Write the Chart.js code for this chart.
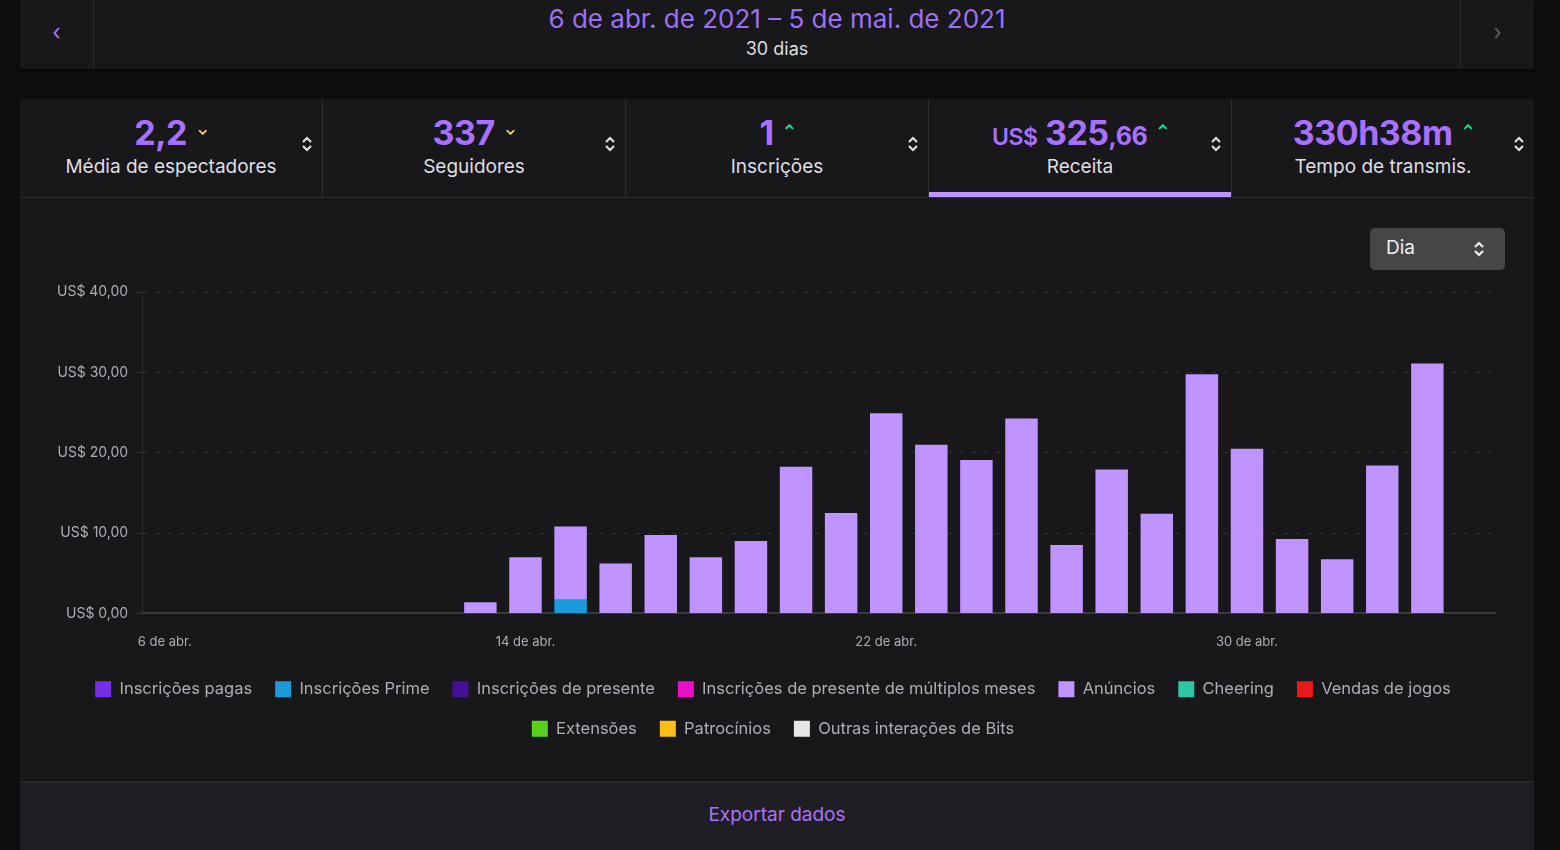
<!DOCTYPE html>
<html lang="pt-BR">
<head>
<meta charset="utf-8">
<script src="https://cdn.jsdelivr.net/npm/chart.js@4.4.1/dist/chart.umd.min.js"></script>
<style>
  html, body { margin: 0; padding: 0; }
  body {
    width: 1560px; height: 850px; overflow: hidden;
    background: #0e0e10; font-family: Inter, "Noto Sans", sans-serif;
    position: relative;
  }
  .panel { position: absolute; background: #18181b; }
  #top { left: 20px; top: 0; width: 1514px; height: 69px; box-shadow: 0 2px 4px rgba(0,0,0,.6); }
  #top .arrow { position: absolute; top: 0; width: 73px; height: 69px; line-height: 64px; text-align: center; font-size: 22px; }
  #top .left { left: 0; border-right: 1px solid #2a2a2e; color: #a970ff; }
  #top .right { right: 0; border-left: 1px solid #2a2a2e; color: #5c5c66; }
  #range { position: absolute; left: 0; right: 0; top: 3px; text-align: center; color: #9c70f5; font-size: 26px; }
  #days { position: absolute; left: 0; right: 0; top: 38px; text-align: center; color: #dedee3; font-size: 18px; }
  #stats { left: 20px; top: 99px; width: 1514px; height: 98px; display: flex; border-bottom: 1px solid #2c2c31; }
  .cell { position: relative; flex: 1; border-right: 1px solid #2c2c31; }
  .cell:last-child { border-right: none; }
  .cell .num { position: absolute; left: 0; right: 0; top: 13px; text-align: center; color: #a970ff; font-weight: 700; font-size: 34px; letter-spacing: -0.5px; }
  .cell .num small { font-size: 25px; font-weight: 700; }
  .cell .num .cur { font-size: 23px; font-weight: 600; }
  .cell .trend { font-size: 14px; vertical-align: 10px; margin-left: 10px; font-weight: 700; }
  .down { color: #ffd37a; }
  .up { color: #00f593; }
  .cell .lbl { position: absolute; left: 0; right: 0; top: 56px; text-align: center; color: #dedee3; font-size: 19px; }
  .cell svg { position: absolute; right: 9px; top: 36px; }
  .cell.active::after { content: ""; position: absolute; left: 0; right: 0; bottom: 0; height: 5px; background: #bf94ff; }
  #chartPanel { left: 20px; top: 198px; width: 1514px; height: 582px; }
  #dia { position: absolute; left: 1350px; top: 30px; width: 135px; height: 42px; background: #464649; border-radius: 5px; color: #efeff1; font-size: 19px; line-height: 40px; box-sizing: border-box; padding-left: 16px; }
  #dia svg { position: absolute; right: 20px; top: 12px; }
  #wrap { position: absolute; left: 0; top: 72px; width: 1514px; height: 483px; }
  #export { left: 20px; top: 781px; width: 1514px; height: 69px; background: #1f1f23; border-top: 1px solid #303036; text-align: center; color: #a970ff; font-size: 19px; line-height: 66px; }
</style>
</head>
<body>
<div id="top" class="panel">
  <div class="arrow left">&#8249;</div>
  <div id="range">6 de abr. de 2021 – 5 de mai. de 2021</div>
  <div id="days">30 dias</div>
  <div class="arrow right">&#8250;</div>
</div>

<div id="stats" class="panel">
  <div class="cell"><div class="num">2,2<span class="trend down">&#8964;</span></div><div class="lbl">Média de espectadores</div>
    <svg width="12" height="18" viewBox="0 0 12 18"><path d="M2 7 L6 3 L10 7" stroke="#dedee3" stroke-width="2.2" fill="none"/><path d="M2 11 L6 15 L10 11" stroke="#dedee3" stroke-width="2.2" fill="none"/></svg></div>
  <div class="cell"><div class="num">337<span class="trend down">&#8964;</span></div><div class="lbl">Seguidores</div>
    <svg width="12" height="18" viewBox="0 0 12 18"><path d="M2 7 L6 3 L10 7" stroke="#dedee3" stroke-width="2.2" fill="none"/><path d="M2 11 L6 15 L10 11" stroke="#dedee3" stroke-width="2.2" fill="none"/></svg></div>
  <div class="cell"><div class="num">1<span class="trend up">&#8963;</span></div><div class="lbl">Inscrições</div>
    <svg width="12" height="18" viewBox="0 0 12 18"><path d="M2 7 L6 3 L10 7" stroke="#dedee3" stroke-width="2.2" fill="none"/><path d="M2 11 L6 15 L10 11" stroke="#dedee3" stroke-width="2.2" fill="none"/></svg></div>
  <div class="cell active"><div class="num"><span class="cur">US$</span> 325<small>,66</small><span class="trend up">&#8963;</span></div><div class="lbl">Receita</div>
    <svg width="12" height="18" viewBox="0 0 12 18"><path d="M2 7 L6 3 L10 7" stroke="#dedee3" stroke-width="2.2" fill="none"/><path d="M2 11 L6 15 L10 11" stroke="#dedee3" stroke-width="2.2" fill="none"/></svg></div>
  <div class="cell"><div class="num">330h38m<span class="trend up">&#8963;</span></div><div class="lbl">Tempo de transmis.</div>
    <svg width="12" height="18" viewBox="0 0 12 18"><path d="M2 7 L6 3 L10 7" stroke="#dedee3" stroke-width="2.2" fill="none"/><path d="M2 11 L6 15 L10 11" stroke="#dedee3" stroke-width="2.2" fill="none"/></svg></div>
</div>

<div id="chartPanel" class="panel">
  <div id="dia">Dia
    <svg width="12" height="18" viewBox="0 0 12 18"><path d="M2 7 L6 3 L10 7" stroke="#efeff1" stroke-width="2.2" fill="none"/><path d="M2 11 L6 15 L10 11" stroke="#efeff1" stroke-width="2.2" fill="none"/></svg>
  </div>
  <div id="wrap"><canvas id="receita"></canvas></div>
</div>

<div id="export" class="panel">Exportar dados</div>

<script>
// dias do período (6 abr – 5 mai)
const days = [
  '6 de abr.', '7 de abr.', '8 de abr.', '9 de abr.', '10 de abr.', '11 de abr.', '12 de abr.',
  '13 de abr.', '14 de abr.', '15 de abr.', '16 de abr.', '17 de abr.', '18 de abr.', '19 de abr.',
  '20 de abr.', '21 de abr.', '22 de abr.', '23 de abr.', '24 de abr.', '25 de abr.', '26 de abr.',
  '27 de abr.', '28 de abr.', '29 de abr.', '30 de abr.', '1 de mai.', '2 de mai.', '3 de mai.',
  '4 de mai.', '5 de mai.'
]
// receita por dia, em US$
const prime = [0, 0, 0, 0, 0, 0, 0, 0, 0, 1.7, 0, 0, 0, 0, 0, 0, 0, 0, 0, 0, 0, 0, 0, 0, 0, 0, 0, 0, 0, 0]
const ads = [
  0, 0, 0, 0, 0, 0, 0, 1.4, 7.0, 9.1, 6.2, 9.75, 7.0, 9.0, 18.25,
  12.5, 24.9, 21.0, 19.1, 24.25, 8.5, 17.9, 12.4, 29.75, 20.5, 9.25, 6.75, 18.4, 31.1, 0
]
const yTicks = [0, 10, 20, 30, 40]
const seriesNames = [
  'Inscrições pagas', 'Inscrições Prime', 'Inscrições de presente',
  'Inscrições de presente de múltiplos meses', 'Anúncios', 'Cheering',
  'Vendas de jogos', 'Extensões', 'Patrocínios', 'Outras interações de Bits'
]
const colors = ['#772ce8', '#1a9ad9', '#451093', '#eb0ec6', '#bf94ff', '#2fc5a6', '#e91916', '#57cf1f', '#ffbe16', '#e6e6ea']

const seriesData = { 'Inscrições Prime': prime, 'Anúncios': ads }

const datasets = seriesNames.map((name, i) => ({
  label: name,
  data: seriesData[name] || [],
  backgroundColor: colors[i],
  borderWidth: 0,
  barPercentage: 0.9,
  categoryPercentage: 0.8
}))

const money = v => 'US$ ' + v.toFixed(2).replace('.', ',')

new Chart('receita', {
  type: 'bar',
  data: { labels: days, datasets: datasets },
  options: {
    responsive: true,
    maintainAspectRatio: false,
    animation: false,
    layout: { padding: { left: 31, right: 39, top: 22, bottom: 6 } },
    plugins: {
      tooltip: { enabled: false },
      legend: {
        position: 'bottom',
        labels: {
          color: '#adadb8',
          font: { family: 'Inter', size: 16.5 },
          boxWidth: 16, boxHeight: 16,
          padding: 23
        }
      }
    },
    scales: {
      x: {
        stacked: true,
        grid: { display: false },
        border: { display: true, color: '#3a3a3e', width: 2 },
        afterFit: axis => { axis.height -= 5 },
        ticks: {
          color: '#adadb8', font: { family: 'Inter', size: 13 },
          autoSkip: false, maxRotation: 0, padding: 13,
          callback: (v, i) => i % 8 === 0 ? days[i] : ''
        }
      },
      y: {
        stacked: true,
        min: 0, max: 40,
        afterBuildTicks: axis => { axis.ticks = yTicks.map(v => ({ value: v })) },
        grid: { color: '#2f2f34', tickLength: 8, lineWidth: 1 },
        border: { display: true, color: '#2a2a2e', dash: [5, 7] },
        ticks: {
          color: '#adadb8', font: { family: 'Inter', size: 14 }, padding: 6,
          callback: v => money(v)
        }
      }
    }
  }
})
</script>
</body>
</html>
